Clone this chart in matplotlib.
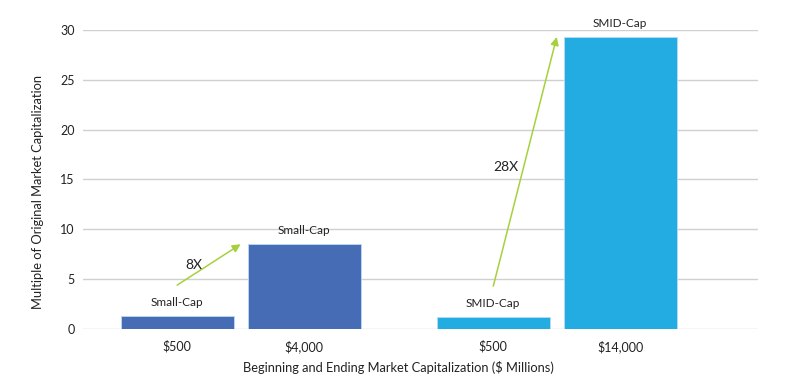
import matplotlib
matplotlib.use('Agg')
import matplotlib.pyplot as plt
import numpy as np

# data
tick_labels = ['$500', '$4,000', '$500', '$14,000']
bar_labels = ['Small-Cap', 'Small-Cap', 'SMID-Cap', 'SMID-Cap']
values = [1.3, 8.5, 1.2, 29.3]
colors = ['#456cb4', '#456cb4', '#22ace2', '#22ace2']
multiples = ['8X', '28X']

plt.rcParams['font.family'] = ['Lato', 'DejaVu Sans']

# two groups, two bars each
group_gap = 2.49
pos = np.array([g * group_gap + i for g in range(2) for i in range(2)])

fig = plt.figure(figsize=(8, 3.79), dpi=100)
ax = fig.add_axes([0.104, 0.132, 0.8435, 0.789])

ax.bar(pos, values, width=0.89, color=colors, edgecolor='#bcdcf2', linewidth=0.6, zorder=3)
ax.set_ylim(0, 30)
ax.set_xlim(-0.74, 4.575)
ax.set_yticks(range(0, 31, 5))
ax.set_xticks(pos)
ax.set_xticklabels(tick_labels, fontsize=9, color='#222222')
ax.tick_params(axis='y', labelsize=9, colors='#222222', length=0, pad=6)
ax.tick_params(axis='x', length=0, pad=8)
ax.grid(axis='y', color='#d0d0d0', linewidth=1, zorder=0)
for s in ax.spines.values():
    s.set_visible(False)

ax.set_ylabel('Multiple of Original Market Capitalization', fontsize=9.3, color='#222222',
              labelpad=12, y=0.458)
ax.set_xlabel('Beginning and Ending Market Capitalization ($ Millions)', fontsize=9.3,
              color='#222222', labelpad=6, x=0.467)

# labels above bars
for x, v, lab in zip(pos, values, bar_labels):
    ax.text(x, v + 0.8, lab, ha='center', va='bottom', fontsize=8.5, color='#222222', clip_on=False)

# growth arrows
green = '#a6d13c'
text_off = [(-11, 0), (-14, -4)]
for g in range(2):
    i0, i1 = 2 * g, 2 * g + 1
    start = (pos[i0], values[i0] + 3.1)
    end = (pos[i0] + 0.5, values[i1])
    ax.annotate('', xy=end, xytext=start,
                arrowprops=dict(arrowstyle='-|>', color=green, lw=1.1,
                                mutation_scale=12, shrinkA=0, shrinkB=0),
                annotation_clip=False)
    mid = ((start[0] + end[0]) / 2, (start[1] + end[1]) / 2)
    ax.annotate(multiples[g], xy=mid, xytext=text_off[g], textcoords='offset points',
                ha='center', va='center', fontsize=10, color='#222222')

fig.savefig('out.png', dpi=100)
